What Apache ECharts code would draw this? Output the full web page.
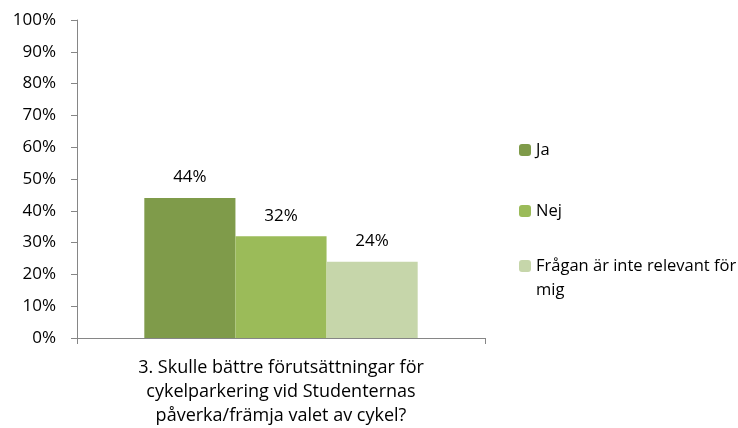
<!DOCTYPE html>
<html>
<head>
<meta charset="utf-8">
<script src="https://cdn.jsdelivr.net/npm/echarts@6/dist/echarts.min.js"></script>
<style>html,body{margin:0;padding:0;background:#fff;}#c{width:738px;height:428px;}</style>
</head>
<body>
<div id="c"></div>
<script>
const categories = ['3. Skulle bättre förutsättningar för cykelparkering vid Studenternas påverka/främja valet av cykel?'];
const seriesNames = ['Ja', 'Nej', 'Frågan är inte relevant för mig'];
const valuesJa = [44];
const valuesNej = [32];
const valuesEjRelevant = [24];
const yTicks = [0, 10, 20, 30, 40, 50, 60, 70, 80, 90, 100];

const colors = ['#7F9B4A', '#9BBB59', '#C6D6AA'];
const FONT = '"Open Sans", sans-serif';
const chart = echarts.init(document.getElementById('c'));

function mkSeries(name, data, color) {
  return {
    name: name, type: 'bar', data: data, barGap: '0%', barCategoryGap: '33%',
    itemStyle: { color: color },
    label: { show: true, position: 'top', distance: 12, formatter: '{c}%', color: '#000', fontFamily: FONT, fontSize: 17 }
  };
}

const legendBase = { orient: 'vertical', left: 519, padding: 0, itemWidth: 12, itemHeight: 12, itemGap: 10,
  textStyle: { fontFamily: FONT, fontSize: 16.5, color: '#000', lineHeight: 24 } };

chart.setOption({
  animation: false,
  color: colors,
  grid: { left: 77, right: 253, top: 20, bottom: 88, containLabel: false },
  legend: [
    Object.assign({}, legendBase, { top: 138, data: [seriesNames[0]] }),
    Object.assign({}, legendBase, { top: 199, data: [seriesNames[1]] }),
    Object.assign({}, legendBase, { top: 230, data: [seriesNames[2]],
      formatter: function (n) { return '\u00A0\n' + n.replace('relevant för ', 'relevant för\n'); } })
  ],
  xAxis: {
    type: 'category', data: categories,
    axisLine: { lineStyle: { color: '#868686', width: 1 } },
    axisTick: { show: true, length: 6, lineStyle: { color: '#868686' } },
    axisLabel: { color: '#000', fontFamily: FONT, fontSize: 18, lineHeight: 24, margin: 18,
      formatter: function (v) { return v.replace('för cykelparkering', 'för\ncykelparkering').replace('Studenternas påverka', 'Studenternas\npåverka'); } }
  },
  yAxis: {
    type: 'value', min: 0, max: 100, interval: 10,
    axisLine: { show: true, lineStyle: { color: '#868686', width: 1 } },
    axisTick: { show: true, length: 6, lineStyle: { color: '#868686' } },
    splitLine: { show: false },
    axisLabel: { color: '#000', fontFamily: FONT, fontSize: 17, margin: 21,
      formatter: function (v) { return yTicks.indexOf(v) >= 0 ? v + '%' : ''; } }
  },
  series: [
    mkSeries(seriesNames[0], valuesJa, colors[0]),
    mkSeries(seriesNames[1], valuesNej, colors[1]),
    mkSeries(seriesNames[2], valuesEjRelevant, colors[2])
  ]
});
</script>
</body>
</html>
